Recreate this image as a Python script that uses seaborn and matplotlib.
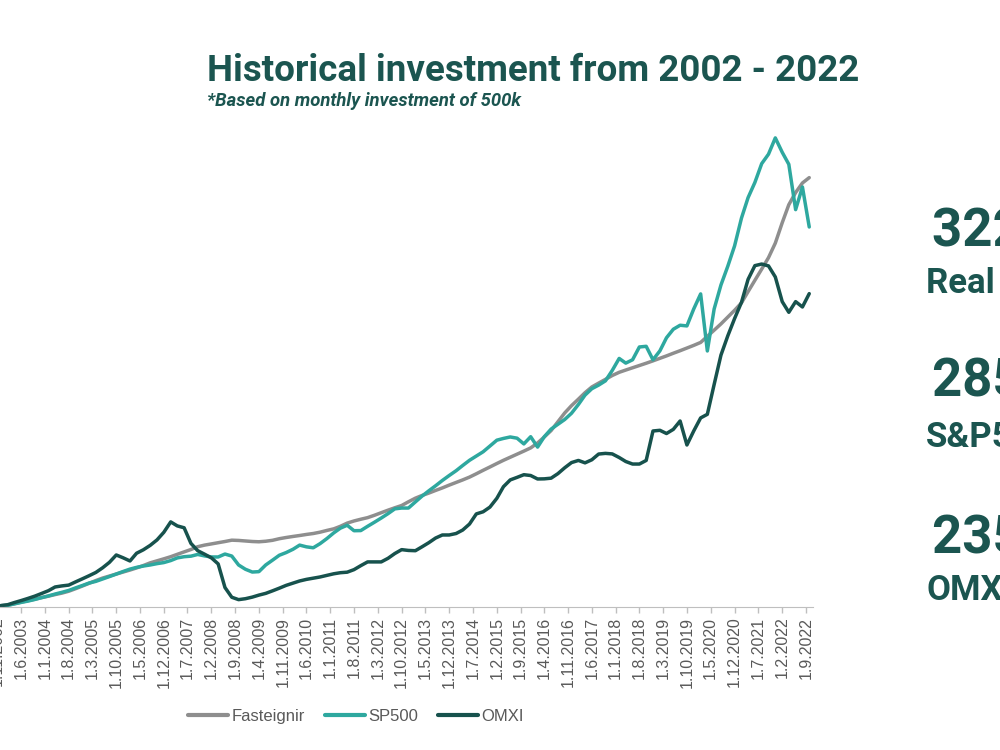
import pandas as pd
import matplotlib
matplotlib.use("Agg")
import matplotlib.pyplot as plt
import seaborn as sns

# cumulative value (millions) of 500k monthly investment, read every 2 months
dates = pd.date_range("2002-12-01", periods=120, freq="2MS")

fasteignir = [1.0, 1.3, 2.4, 3.6, 4.7, 5.8, 7.0, 8.1, 9.3, 10.4,
              11.8, 13.7, 15.7, 17.8, 19.8, 21.7, 23.2, 24.7, 26.2, 27.7,
              29.3, 31.1, 33.1, 34.6, 36.1, 37.7, 39.5, 41.3, 43.1, 45.2,
              46.4, 47.3, 48.2, 49.1, 50.1, 49.9, 49.5, 49.1, 48.9, 49.3,
              50.0, 51.2, 52.1, 52.9, 53.6, 54.4, 55.1, 56.1, 57.4, 58.6,
              60.5, 62.9, 64.5, 65.8, 67.0, 68.8, 70.7, 72.6, 74.4, 76.1,
              78.9, 81.6, 83.6, 85.4, 87.4, 89.3, 91.4, 93.4, 95.3, 97.4,
              99.9, 102.5, 105.0, 107.6, 110.0, 112.3, 114.6, 116.9, 119.3, 123.0,
              127.5, 132.3, 138.9, 145.5, 151.0, 155.9, 160.7, 165.0, 167.9, 170.7,
              173.6, 176.0, 177.7, 179.4, 181.1, 182.8, 184.6, 186.5, 188.3, 190.3,
              192.2, 194.2, 196.2, 198.4, 203.0, 207.6, 212.3, 217.4, 222.5, 228.1,
              236.5, 245.0, 253.4, 262.0, 272.9, 288.2, 301.7, 310.8, 318.0, 322.0]

sp500 = [0.9, 1.2, 2.3, 3.4, 4.4, 5.6, 7.0, 8.3, 9.7, 11.0,
         12.4, 14.3, 16.1, 18.0, 19.2, 21.0, 22.8, 24.7, 26.6, 28.4,
         29.7, 30.7, 31.5, 32.5, 33.3, 34.8, 36.8, 37.7, 38.1, 39.4,
         38.3, 37.5, 37.5, 39.7, 38.2, 31.5, 28.3, 26.2, 26.5, 31.5,
         35.1, 38.8, 40.8, 43.3, 46.4, 45.1, 44.4, 47.5, 51.3, 55.6,
         59.1, 61.3, 57.2, 57.3, 60.5, 63.6, 66.7, 70.0, 73.6, 74.2,
         74.2, 78.8, 83.1, 87.1, 90.9, 94.9, 98.6, 102.2, 106.1, 110.0,
         113.2, 116.4, 120.7, 125.1, 126.4, 127.5, 126.6, 122.3, 127.7, 119.9,
         127.7, 133.4, 137.0, 140.6, 145.3, 151.9, 158.9, 163.7, 166.4, 169.6,
         177.4, 186.4, 182.9, 185.4, 195.0, 195.5, 185.4, 192.1, 201.9, 208.3,
         211.3, 210.8, 223.5, 234.8, 192.0, 223.5, 241.5, 255.5, 270.8, 291.7,
         307.0, 318.4, 332.5, 339.6, 351.8, 341.0, 332.0, 298.0, 315.0, 285.0]

omxi = [1.0, 1.7, 3.3, 4.8, 6.4, 8.1, 10.1, 12.2, 15.0, 15.8,
        16.4, 18.8, 21.1, 23.5, 25.9, 29.4, 33.5, 39.0, 36.9, 34.5,
        40.3, 42.9, 46.2, 50.3, 56.0, 63.8, 60.8, 59.4, 47.7, 42.2,
        39.6, 36.8, 32.3, 14.6, 7.3, 5.5, 6.2, 7.4, 8.9, 10.2,
        12.1, 14.1, 16.2, 17.9, 19.5, 20.7, 21.6, 22.5, 23.7, 24.9,
        25.7, 26.1, 28.0, 31.0, 33.8, 33.8, 33.8, 36.5, 40.1, 43.0,
        42.4, 42.2, 45.1, 48.2, 51.7, 54.0, 54.0, 55.1, 57.7, 62.2,
        69.8, 71.4, 74.9, 81.5, 90.2, 95.3, 97.2, 99.2, 98.6, 96.0,
        96.1, 96.6, 100.0, 104.4, 108.3, 109.9, 108.1, 110.4, 114.7, 115.2,
        114.8, 112.1, 109.1, 107.2, 107.2, 109.9, 132.0, 132.5, 130.1, 133.2,
        139.5, 121.5, 132.0, 141.8, 144.5, 166.9, 188.9, 203.3, 216.3, 228.5,
        245.7, 256.0, 257.2, 255.8, 247.5, 229.0, 221.0, 229.0, 225.0, 235.0]

series_names = ["Fasteignir", "SP500", "OMXI"]
line_colors = ["#8e8e8e", "#2ea89f", "#17524d"]

tick_dates = pd.date_range("2002-11-01", "2022-09-01", freq="7MS")
tick_labels = [f"1.{d.month}.{d.year}" for d in tick_dates]

summary_values = ["322 m.kr.", "285 m.kr.", "235 m.kr."]
summary_names = ["Real estate", "S&P500", "OMXI"]

df = pd.DataFrame({"date": dates, "Fasteignir": fasteignir, "SP500": sp500, "OMXI": omxi})
long_df = df.melt(id_vars="date", var_name="series", value_name="value")

sns.set_style("white")
plt.rcParams["font.family"] = ["Liberation Sans", "DejaVu Sans"]
dark = "#1b5550"

fig = plt.figure(figsize=(10, 7.5), dpi=100)
ax = fig.add_axes([-0.0026, 0.1907, 0.8153, 0.64])

sns.lineplot(data=long_df, x="date", y="value", hue="series", hue_order=series_names,
             palette=line_colors, linewidth=2.5, ax=ax)

ax.set_xlim(pd.Timestamp("2002-11-01"), pd.Timestamp("2022-11-01"))
ax.set_ylim(0, 360)
ax.set_yticks([])
ax.set_xticks(tick_dates)
ax.set_xticklabels(tick_labels, rotation=90, fontsize=11.5, color="#595959")
ax.tick_params(axis="x", bottom=True, length=4, width=1, color="#bfbfbf", pad=3)
ax.set_xlabel("")
ax.set_ylabel("")
for side in ["left", "top", "right"]:
    ax.spines[side].set_visible(False)
ax.spines["bottom"].set_color("#bfbfbf")

handles, labels = ax.get_legend_handles_labels()
leg = ax.legend(handles, labels, loc="center", bbox_to_anchor=(0.356, 0.045),
                bbox_transform=fig.transFigure, ncol=3, frameon=False, fontsize=12,
                handlelength=2.4, handletextpad=0.2, columnspacing=1.2)
for line in leg.get_lines():
    line.set_linewidth(3)
for t in leg.get_texts():
    t.set_color("#595959")

# title block
fig.text(0.207, 0.8915, "Historical investment from 2002 - 2022", fontsize=26.5,
         fontweight="bold", family="Roboto", color=dark, ha="left", va="baseline")
fig.text(0.207, 0.8587, "*Based on monthly investment of 500k", fontsize=13.3,
         fontweight="bold", style="italic", family="Roboto", color=dark,
         ha="left", va="baseline")

# summary figures on the right (cut by the figure edge)
value_y = [0.6733, 0.4733, 0.2627]
name_y = [0.6093, 0.404, 0.2]
for val, name, vy, ny in zip(summary_values, summary_names, value_y, name_y):
    fig.text(0.932, vy, val, fontsize=38, fontweight="bold", family="Roboto",
             color=dark, ha="left", va="baseline")
    fig.text(0.926, ny, name, fontsize=25, fontweight="bold", family="Roboto",
             color=dark, ha="left", va="baseline")

fig.savefig("out.png", dpi=100)
